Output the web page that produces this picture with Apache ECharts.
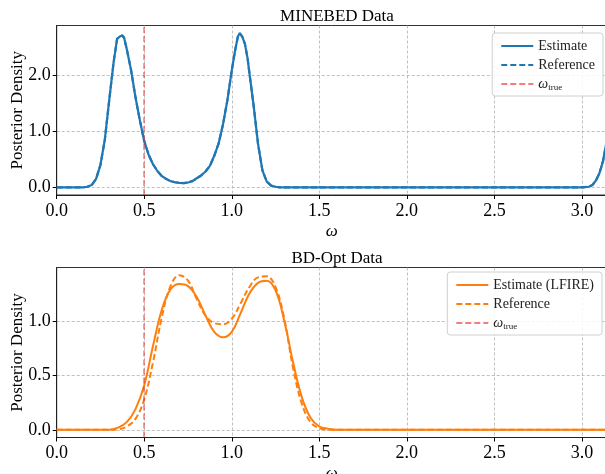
<!DOCTYPE html>
<html>
<head>
<meta charset="utf-8">
<script src="https://cdn.jsdelivr.net/npm/echarts@6/dist/echarts.min.js"></script>
<style>
  html, body { margin: 0; padding: 0; background: #fff; }
  #chart { width: 605px; height: 474px; }
</style>
</head>
<body>
<div id="chart"></div>
<script>
// true parameter value
var omegaTrue = 0.5;

// MINEBED panel
var minebedOmega = [0, 0.15, 0.175, 0.2, 0.225, 0.25, 0.275, 0.3, 0.325, 0.345, 0.36, 0.375, 0.385, 0.4,
  0.425, 0.45, 0.475, 0.5, 0.525, 0.55, 0.575, 0.6, 0.625, 0.65, 0.675, 0.7, 0.725, 0.75, 0.775, 0.8,
  0.825, 0.85, 0.875, 0.9, 0.925, 0.95, 0.975, 1.0, 1.02, 1.035, 1.045, 1.06, 1.075, 1.09, 1.1, 1.125,
  1.15, 1.175, 1.2, 1.225, 1.25, 1.275, 3.0, 3.04, 3.06, 3.08, 3.1, 3.12, 3.1416];
var minebedEstimate = [0, 0, 0.01, 0.04, 0.15, 0.4, 0.85, 1.55, 2.22, 2.64, 2.68, 2.7, 2.66, 2.46,
  2.08, 1.6, 1.19, 0.82, 0.58, 0.41, 0.29, 0.2, 0.15, 0.11, 0.09, 0.08, 0.075, 0.085, 0.11, 0.16,
  0.21, 0.28, 0.38, 0.56, 0.78, 1.12, 1.55, 2.08, 2.45, 2.68, 2.74, 2.68, 2.55, 2.3, 2.05, 1.45,
  0.77, 0.3, 0.1, 0.03, 0.01, 0, 0, 0.01, 0.04, 0.12, 0.25, 0.46, 0.82];
var minebedReference = [0, 0, 0.01, 0.04, 0.15, 0.4, 0.85, 1.55, 2.22, 2.64, 2.68, 2.7, 2.66, 2.46,
  2.08, 1.6, 1.19, 0.82, 0.58, 0.41, 0.29, 0.2, 0.15, 0.11, 0.09, 0.08, 0.075, 0.085, 0.11, 0.16,
  0.21, 0.28, 0.38, 0.56, 0.78, 1.12, 1.55, 2.08, 2.45, 2.68, 2.74, 2.68, 2.55, 2.3, 2.05, 1.45,
  0.77, 0.3, 0.1, 0.03, 0.01, 0, 0, 0.01, 0.04, 0.12, 0.25, 0.46, 0.82];

// BD-Opt panel
var bdOmega = [0, 0.3, 0.35, 0.4, 0.45, 0.5, 0.55, 0.6, 0.65, 0.7, 0.75, 0.8, 0.85, 0.9, 0.95, 1.0,
  1.05, 1.1, 1.15, 1.2, 1.25, 1.3, 1.35, 1.4, 1.45, 1.5, 1.55, 1.6, 3.1416];
var bdEstimate = [0, 0, 0.02, 0.07, 0.19, 0.41, 0.77, 1.1, 1.29, 1.34, 1.32, 1.22, 1.05, 0.9, 0.85, 0.9,
  1.07, 1.25, 1.35, 1.37, 1.28, 1.0, 0.62, 0.3, 0.11, 0.03, 0.01, 0, 0];
var bdReference = [0, 0, 0.005, 0.03, 0.1, 0.28, 0.62, 1.03, 1.32, 1.42, 1.37, 1.2, 1.05, 0.98, 0.97, 1.02,
  1.16, 1.31, 1.4, 1.41, 1.31, 1.02, 0.57, 0.24, 0.07, 0.015, 0, 0, 0];

var xTicks = ['0.0', '0.5', '1.0', '1.5', '2.0', '2.5', '3.0'];

function pairs(xs, ys) {
  return xs.map(function (x, i) { return [x, ys[i]]; });
}

var blue = '#1f77b4', orange = '#ff7f0e', red = 'rgba(235,40,40,0.6)';
var serif = '"Liberation Serif", "DejaVu Serif", serif';
var gridLine = { show: true, showMinLine: false, showMaxLine: false,
  lineStyle: { color: '#b0b0b0', type: [3, 2], width: 0.8 } };

function xAxisFor(gi) {
  return {
    type: 'value', gridIndex: gi, min: 0, max: Math.PI, interval: 0.5,
    name: 'ω', nameLocation: 'middle', nameGap: 28, nameMoveOverlap: false,
    nameTextStyle: { fontFamily: serif, fontSize: 17, fontStyle: 'italic', color: '#000' },
    axisLine: { show: true, onZero: false, lineStyle: { color: '#222', width: 1 } },
    axisTick: { show: true, length: 4, lineStyle: { color: '#000' } },
    axisLabel: {
      showMaxLabel: false, margin: 7, fontFamily: serif, fontSize: 18, color: '#000',
      formatter: function (v) { return xTicks[Math.round(v / 0.5)] || ''; }
    },
    splitLine: gridLine
  };
}

function yAxisFor(gi, lo, hi, step) {
  return {
    type: 'value', gridIndex: gi, min: lo, max: hi, minInterval: step, maxInterval: step,
    name: 'Posterior Density', nameLocation: 'middle', nameGap: 31, nameMoveOverlap: false,
    nameTextStyle: { fontFamily: serif, fontSize: 17, color: '#000' },
    axisLine: { show: true, onZero: false, lineStyle: { color: '#222', width: 1 } },
    axisTick: { show: true, length: 4, lineStyle: { color: '#000' } },
    axisLabel: {
      showMinLabel: false, showMaxLabel: false, margin: 6, fontFamily: serif, fontSize: 18, color: '#000',
      formatter: function (v) { return v.toFixed(1); }
    },
    splitLine: gridLine
  };
}

function legendFor(names, right, top) {
  return {
    data: names, orient: 'vertical', right: right, top: top,
    itemWidth: 32, itemHeight: 12, itemGap: 5,
    padding: [6, 8, 4, 8],
    itemStyle: { opacity: 0 },
    backgroundColor: 'rgba(255,255,255,0.85)', borderColor: '#d0d0d0', borderWidth: 1, borderRadius: 3,
    textStyle: {
      fontFamily: serif, fontSize: 14, color: '#222',
      rich: {
        w: { fontFamily: serif, fontSize: 14, fontStyle: 'italic', color: '#222' },
        s: { fontFamily: serif, fontSize: 9, color: '#222', padding: [7, 0, 0, 0] }
      }
    },
    formatter: function (n) {
      n = n.replace(' 2', '');
      return n === 'ω_true' ? '{w|ω}{s|true}' : n;
    }
  };
}

function trueLine(gi, name) {
  return {
    name: name, type: 'line', xAxisIndex: gi, yAxisIndex: gi, data: [], symbol: 'none',
    lineStyle: { color: red, type: [6, 3], width: 1.5 }, itemStyle: { color: red },
    markLine: {
      silent: true, symbol: 'none', label: { show: false },
      lineStyle: { color: red, type: [6, 3], width: 1.5 },
      data: [{ xAxis: omegaTrue }]
    },
    z: 5
  };
}

var chart = echarts.init(document.getElementById('chart'), null, { renderer: 'canvas' });
chart.setOption({
  animation: false,
  backgroundColor: '#fff',
  title: [
    { text: 'MINEBED Data', left: 332, top: 3, textAlign: 'center',
      textStyle: { fontFamily: serif, fontSize: 17, fontWeight: 'normal', color: '#000' } },
    { text: 'BD-Opt Data', left: 332, top: 245, textAlign: 'center',
      textStyle: { fontFamily: serif, fontSize: 17, fontWeight: 'normal', color: '#000' } }
  ],
  grid: [
    { left: 56.7, top: 25.5, width: 550, height: 169.5, show: true, borderColor: '#333', borderWidth: 1,
      outerBoundsMode: 'none', containLabel: false },
    { left: 56.7, top: 267.5, width: 550, height: 170, show: true, borderColor: '#333', borderWidth: 1,
      outerBoundsMode: 'none', containLabel: false }
  ],
  xAxis: [xAxisFor(0), xAxisFor(1)],
  yAxis: [yAxisFor(0, -0.137, 2.877, 1), yAxisFor(1, -0.071, 1.491, 0.5)],
  legend: [
    legendFor(['Estimate', 'Reference', 'ω_true'], 2, 33),
    legendFor(['Estimate (LFIRE)', 'Reference 2', 'ω_true 2'], 3, 272)
  ],
  series: [
    { name: 'Reference', type: 'line', xAxisIndex: 0, yAxisIndex: 0, symbol: 'none',
      data: pairs(minebedOmega, minebedReference),
      lineStyle: { color: blue, width: 2.2, type: [6, 3] }, itemStyle: { color: blue } },
    { name: 'Estimate', type: 'line', xAxisIndex: 0, yAxisIndex: 0, symbol: 'none',
      data: pairs(minebedOmega, minebedEstimate),
      lineStyle: { color: blue, width: 2.2 }, itemStyle: { color: blue } },
    trueLine(0, 'ω_true'),
    { name: 'Estimate (LFIRE)', type: 'line', xAxisIndex: 1, yAxisIndex: 1, symbol: 'none', smooth: 0.4,
      data: pairs(bdOmega, bdEstimate),
      lineStyle: { color: orange, width: 2 }, itemStyle: { color: orange } },
    { name: 'Reference 2', type: 'line', xAxisIndex: 1, yAxisIndex: 1, symbol: 'none', smooth: 0.4,
      data: pairs(bdOmega, bdReference),
      lineStyle: { color: orange, width: 2, type: [6, 3] }, itemStyle: { color: orange } },
    trueLine(1, 'ω_true 2')
  ]
});
</script>
</body>
</html>
